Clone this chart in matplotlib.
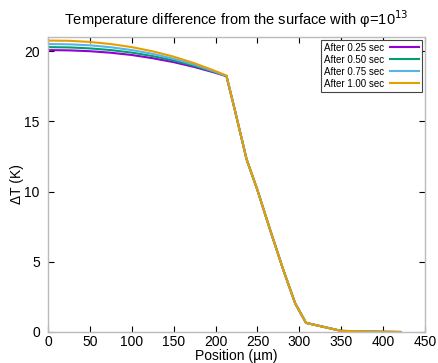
import matplotlib
matplotlib.use('Agg')
import matplotlib.pyplot as plt

plt.rcParams['font.family'] = ['Liberation Sans', 'DejaVu Sans']

# positions (um) in the heated layer and beyond it
x_top = [0, 25, 50, 75, 100, 125, 150, 175, 200, 213]
x_tail = [223, 237, 250, 265, 281, 295, 308, 350, 392, 421]

dt_025 = [20.07, 20.05, 19.99, 19.88, 19.72, 19.49, 19.21, 18.86, 18.45, 18.21]
dt_050 = [20.28, 20.26, 20.19, 20.07, 19.89, 19.64, 19.33, 18.94, 18.49, 18.22]
dt_075 = [20.50, 20.48, 20.41, 20.27, 20.07, 19.80, 19.45, 19.03, 18.52, 18.23]
dt_100 = [20.75, 20.73, 20.65, 20.50, 20.28, 19.98, 19.60, 19.13, 18.57, 18.25]
dt_tail = [15.8, 12.3, 10.1, 7.3, 4.4, 2.05, 0.65, 0.08, 0.02, 0.0]

labels = ['After 0.25 sec', 'After 0.50 sec', 'After 0.75 sec', 'After 1.00 sec']
colors = ['#9400d3', '#009e73', '#56b4e9', '#e69f00']

fig = plt.figure(figsize=(4.38, 3.63), dpi=100)
ax = fig.add_axes([0.110, 0.0854, 0.860, 0.8126])

x = x_top + x_tail
for ys, lab, c in zip([dt_025, dt_050, dt_075, dt_100], labels, colors):
    ax.plot(x, ys + dt_tail, color=c, lw=1.5, label=lab)

ax.set_xlim(0, 450)
ax.set_ylim(0, 21)
ax.set_xticks(range(0, 451, 50))
ax.set_yticks([0, 5, 10, 15, 20])
ax.tick_params(direction='in', top=True, right=True, length=4, width=0.8,
               labelsize=10, pad=2, color='black')
ax.tick_params(axis='y', pad=6)
for s in ax.spines.values():
    s.set_color('#bbbbbb')
    s.set_linewidth(1)

ax.set_title('Temperature difference from the surface with φ=10$^{13}$',
             fontsize=10.5, pad=9)
ax.set_xlabel('Position (µm)', fontsize=10, labelpad=0)
ax.set_ylabel('ΔT (K)', fontsize=10, labelpad=0)

leg = ax.legend(loc='upper right', fontsize=7, markerfirst=False,
                fancybox=False, framealpha=1, edgecolor='#444444',
                handlelength=3.0, borderpad=0.3, labelspacing=0.2,
                handletextpad=0.6, borderaxespad=0.3)
for t in leg.get_texts():
    t.set_ha('right')
leg.get_frame().set_linewidth(0.8)

fig.savefig('out.png', dpi=100)
